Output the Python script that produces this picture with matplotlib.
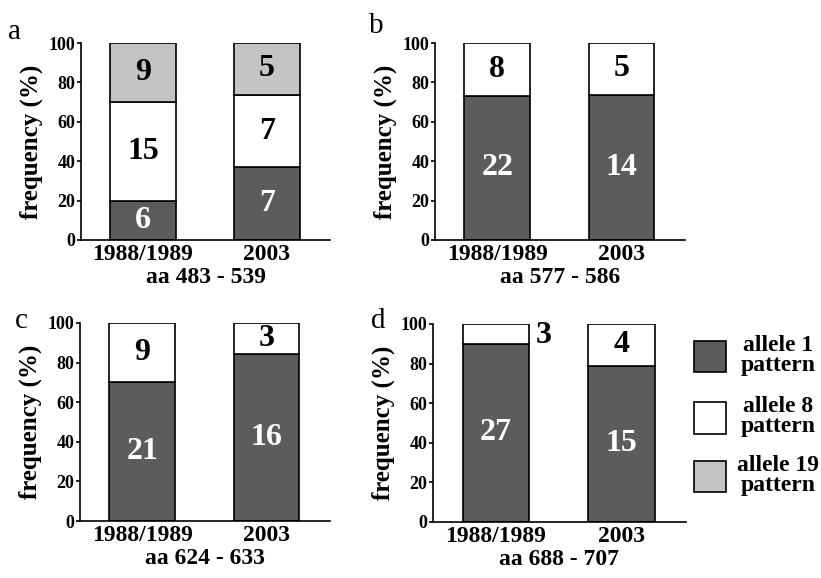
import matplotlib
matplotlib.use("Agg")
import matplotlib.pyplot as plt
from matplotlib.patches import Rectangle

plt.rcParams['font.family'] = ['Liberation Serif', 'DejaVu Serif']
plt.rcParams['font.weight'] = 'bold'
plt.rcParams['axes.labelweight'] = 'bold'

years = ["1988/1989", "2003"]
regions = ["aa 483 - 539", "aa 577 - 586", "aa 624 - 633", "aa 688 - 707"]
letters = ["a", "b", "c", "d"]

# isolate counts per allele pattern (1988/1989, 2003)
allele1 = [[6, 7], [22, 14], [21, 16], [27, 15]]
allele8 = [[15, 7], [8, 5], [9, 3], [3, 4]]
allele19 = [[9, 5], [0, 0], [0, 0], [0, 0]]

legend_labels = ["allele 1\npattern", "allele 8\npattern", "allele 19\npattern"]
colors = ["#5c5c5c", "#ffffff", "#c4c4c4"]
text_colors = ["white", "black", "black"]

# axes boxes in figure fraction: left, bottom, width, height
boxes = [
    [0.0987, 0.5848, 0.3033, 0.3408],
    [0.5298, 0.5848, 0.3045, 0.3408],
    [0.0974, 0.0986, 0.3045, 0.3426],
    [0.5274, 0.0969, 0.3080, 0.3426],
]
letter_pos = [(0.010, 0.945), (0.450, 0.955), (0.018, 0.445), (0.452, 0.445)]

fig = plt.figure(figsize=(8.21, 5.78), dpi=100)

for k in range(4):
    ax = fig.add_axes(boxes[k])
    counts = [allele1[k], allele8[k], allele19[k]]
    for j in range(2):
        total = sum(c[j] for c in counts)
        bottom = 0.0
        for s in range(3):
            pct = 100.0 * counts[s][j] / total
            if pct == 0:
                continue
            ax.bar(j, pct, bottom=bottom, width=0.53, color=colors[s],
                   edgecolor="black", linewidth=1.2)
            if pct < 12:
                # too small: label beside the bar
                ax.text(j + 0.38, bottom + pct / 2 - 1, str(counts[s][j]),
                        ha="center", va="center", fontsize=23,
                        color="black", clip_on=False)
            else:
                ax.text(j, bottom + pct / 2, str(counts[s][j]),
                        ha="center", va="center", fontsize=23,
                        color=text_colors[s])
            bottom += pct
    ax.set_xlim(-0.5, 1.51)
    ax.set_ylim(0, 100)
    ax.set_yticks([0, 20, 40, 60, 80, 100])
    ax.set_xticks([0, 1])
    ax.set_xticklabels(years, fontsize=17, fontweight="bold")
    ax.tick_params(axis="y", labelsize=13, length=3, width=1.2, pad=1)
    ax.tick_params(axis="x", length=0, pad=3)
    ax.spines["top"].set_visible(False)
    ax.spines["right"].set_visible(False)
    ax.spines["left"].set_linewidth(1.2)
    ax.spines["bottom"].set_linewidth(1.2)
    ax.set_ylabel("frequency (%)", fontsize=18, fontweight="bold", labelpad=4)
    ax.set_xlabel(regions[k], fontsize=17, fontweight="bold", labelpad=1)
    fig.text(letter_pos[k][0], letter_pos[k][1], letters[k], fontsize=21,
             fontweight="normal", ha="left", va="center")

# legend drawn by hand in figure coordinates
leg_y = [0.383, 0.277, 0.175]
for s in range(3):
    fig.patches.append(Rectangle((0.845, leg_y[s] - 0.027), 0.039, 0.054,
                                 transform=fig.transFigure, facecolor=colors[s],
                                 edgecolor="black", linewidth=1.2))
    fig.text(0.948, leg_y[s] + 0.002, legend_labels[s], fontsize=17,
             ha="center", va="center", linespacing=0.95)

fig.savefig("out.png", dpi=100)
